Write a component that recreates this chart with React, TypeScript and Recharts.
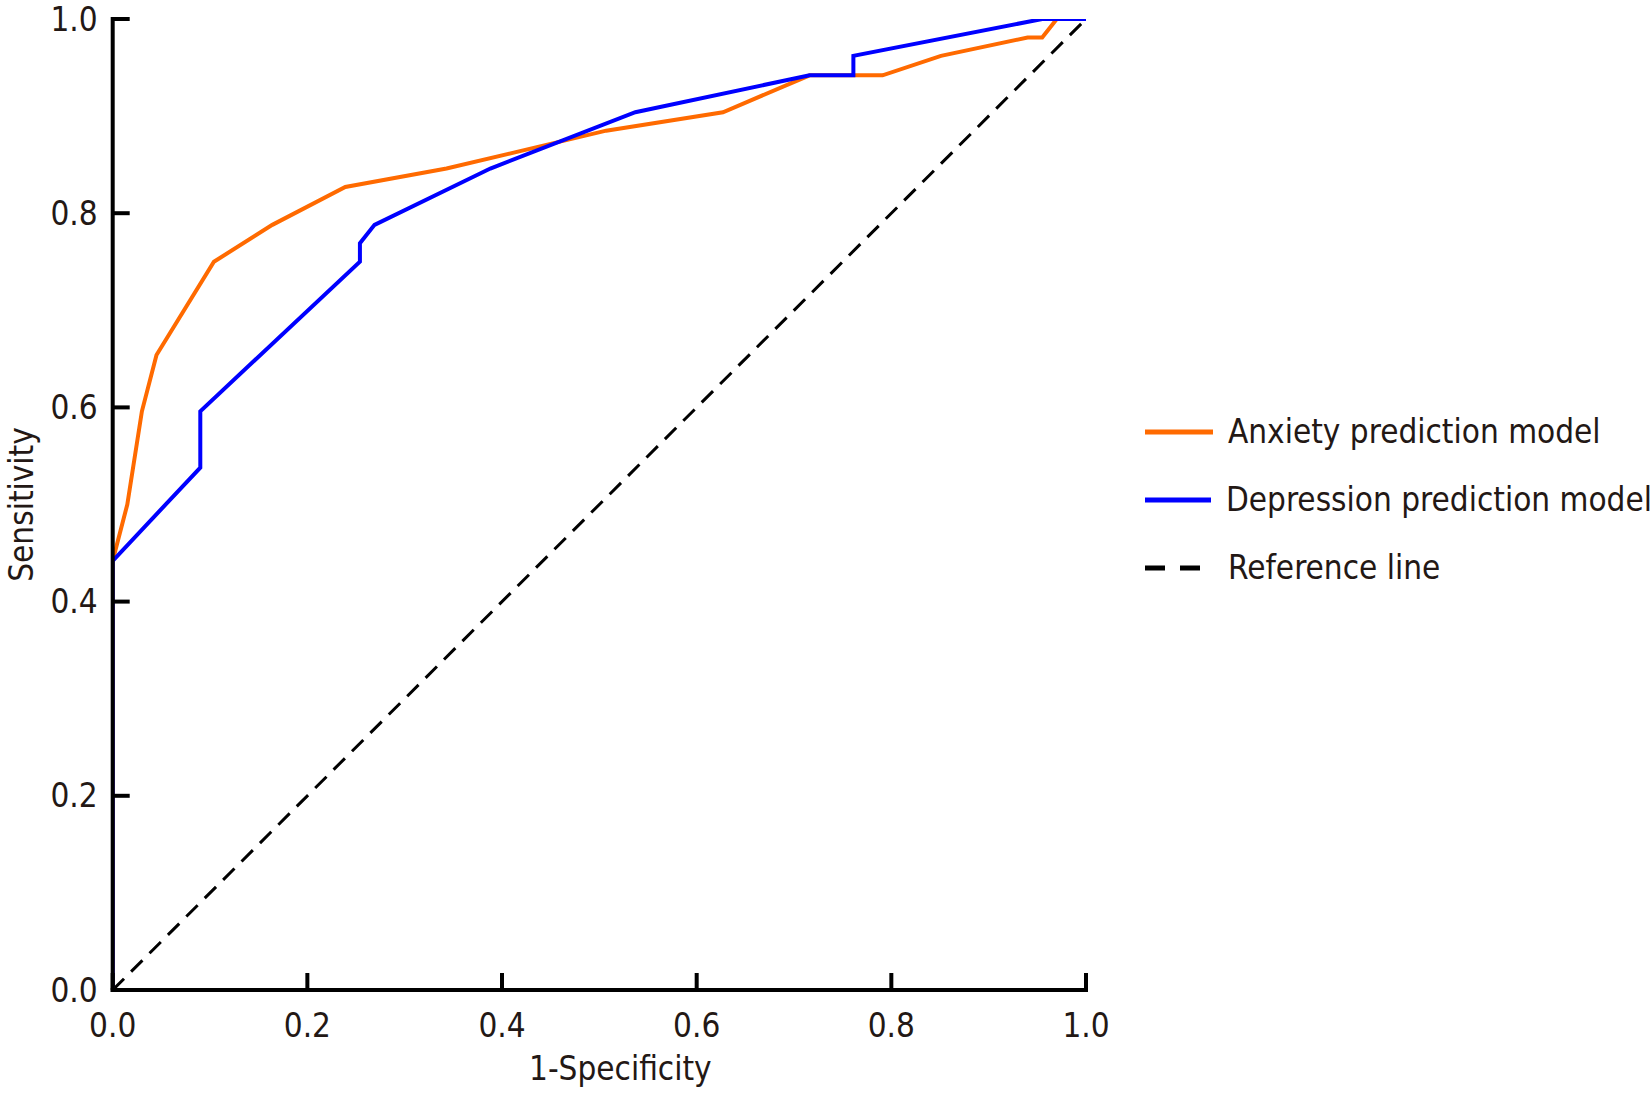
import React from 'react';
import { LineChart, Line, XAxis, YAxis, Legend } from 'recharts';

const anxietyFpr = [0, 0, 0.015, 0.03, 0.045, 0.104, 0.164, 0.239, 0.343, 0.507, 0.627, 0.716, 0.791, 0.851, 0.94, 0.955, 0.97, 1.0];
const anxietyTpr = [0, 0.442, 0.5, 0.596, 0.654, 0.75, 0.788, 0.827, 0.846, 0.885, 0.904, 0.942, 0.942, 0.962, 0.981, 0.981, 1.0, 1.0];

const depressionFpr = [0, 0, 0.09, 0.09, 0.254, 0.254, 0.269, 0.388, 0.537, 0.716, 0.761, 0.761, 0.955, 1.0];
const depressionTpr = [0, 0.442, 0.538, 0.596, 0.75, 0.769, 0.788, 0.846, 0.904, 0.942, 0.942, 0.962, 1.0, 1.0];

const referenceFpr = [0, 1];
const referenceTpr = [0, 1];

const tickValues = [0, 0.2, 0.4, 0.6, 0.8, 1.0];
const tickLabels = ['0.0', '0.2', '0.4', '0.6', '0.8', '1.0'];

const seriesNames = ['Anxiety prediction model', 'Depression prediction model', 'Reference line'];
const seriesColors = ['#FF6A00', '#0000FF', '#000000'];
const seriesDashes = ['', '', '16 10'];

const toPoints = (xs: number[], ys: number[]) => xs.map((x, i) => ({ x, y: ys[i] }));

const anxietyData = toPoints(anxietyFpr, anxietyTpr);
const depressionData = toPoints(depressionFpr, depressionTpr);
const referenceData = toPoints(referenceFpr, referenceTpr);

const FONT = '"DejaVu Sans Condensed", "DejaVu Sans", sans-serif';
const TEXT = '#231815';
const FS = 33;

const labelFor = (v: number) => {
  const i = tickValues.findIndex((t) => Math.abs(t - v) < 1e-9);
  return i >= 0 ? tickLabels[i] : String(v);
};

const YTick = (props: any) => {
  const { x, y, payload } = props;
  return (
    <g>
      <line x1={x} y1={y} x2={x + 17} y2={y} stroke="#000" strokeWidth={4} />
      <text x={x - 15} y={y} textAnchor="end" dominantBaseline="central" fontFamily={FONT} fontSize={FS} fill={TEXT}>
        {labelFor(payload.value)}
      </text>
    </g>
  );
};

const XTick = (props: any) => {
  const { x, y, payload } = props;
  return (
    <g>
      <line x1={x} y1={y} x2={x} y2={y - 17} stroke="#000" strokeWidth={4} />
      <text x={x} y={y + 47} textAnchor="middle" fontFamily={FONT} fontSize={FS} fill={TEXT}>
        {labelFor(payload.value)}
      </text>
    </g>
  );
};

const renderLegend = () => (
  <div style={{ fontFamily: FONT, fontSize: FS, color: TEXT }}>
    {seriesNames.map((name, i) => (
      <div key={name} style={{ height: 68, display: 'flex', alignItems: 'center', whiteSpace: 'nowrap' }}>
        <svg width={68} height={10} style={{ display: 'block' }}>
          <line
            x1={0}
            y1={5}
            x2={i === 2 ? 55 : 68}
            y2={5}
            stroke={seriesColors[i]}
            strokeWidth={5}
            strokeDasharray={i === 2 ? '20 15' : undefined}
          />
        </svg>
        <span style={{ marginLeft: 15, lineHeight: '68px' }}>{name}</span>
      </div>
    ))}
  </div>
);

export default function App() {
  return (
    <div style={{ position: 'absolute', left: 0, top: 0, width: 1652, height: 1098, background: '#fff' }}>
      <LineChart width={1652} height={1098} margin={{ top: 19, right: 566, bottom: 0, left: 0 }}>
        <XAxis
          type="number"
          dataKey="x"
          domain={[0, 1]}
          ticks={tickValues}
          height={108}
          tickSize={0}
          tickMargin={0}
          tick={<XTick />}
          axisLine={{ stroke: '#000', strokeWidth: 4, strokeLinecap: 'square' }}
          tickLine={false}
          allowDataOverflow
          label={{ value: '1-Specificity', position: 'insideBottom', offset: 18, dx: 21, fontFamily: FONT, fontSize: FS, fill: TEXT }}
        />
        <YAxis
          type="number"
          dataKey="y"
          domain={[0, 1]}
          ticks={tickValues}
          width={112.7}
          tickSize={0}
          tickMargin={0}
          tick={<YTick />}
          axisLine={{ stroke: '#000', strokeWidth: 4, strokeLinecap: 'square' }}
          tickLine={false}
          allowDataOverflow
          label={{ value: 'Sensitivity', angle: -90, position: 'insideLeft', offset: 0, dx: 21, fontFamily: FONT, fontSize: FS, fill: TEXT, style: { textAnchor: 'middle' } }}
        />
        <Legend
          layout="vertical"
          align="center"
          verticalAlign="middle"
          content={renderLegend}
          wrapperStyle={{ left: 1145, top: 398, width: 507, height: 204 }}
        />
        <Line
          data={referenceData}
          dataKey="y"
          name={seriesNames[2]}
          stroke={seriesColors[2]}
          strokeWidth={3}
          strokeDasharray={seriesDashes[2]}
          dot={false}
          activeDot={false}
          isAnimationActive={false}
        />
        <Line
          data={anxietyData}
          dataKey="y"
          name={seriesNames[0]}
          stroke={seriesColors[0]}
          strokeWidth={4}
          dot={false}
          activeDot={false}
          isAnimationActive={false}
        />
        <Line
          data={depressionData}
          dataKey="y"
          name={seriesNames[1]}
          stroke={seriesColors[1]}
          strokeWidth={4}
          dot={false}
          activeDot={false}
          isAnimationActive={false}
        />
      </LineChart>
    </div>
  );
}
